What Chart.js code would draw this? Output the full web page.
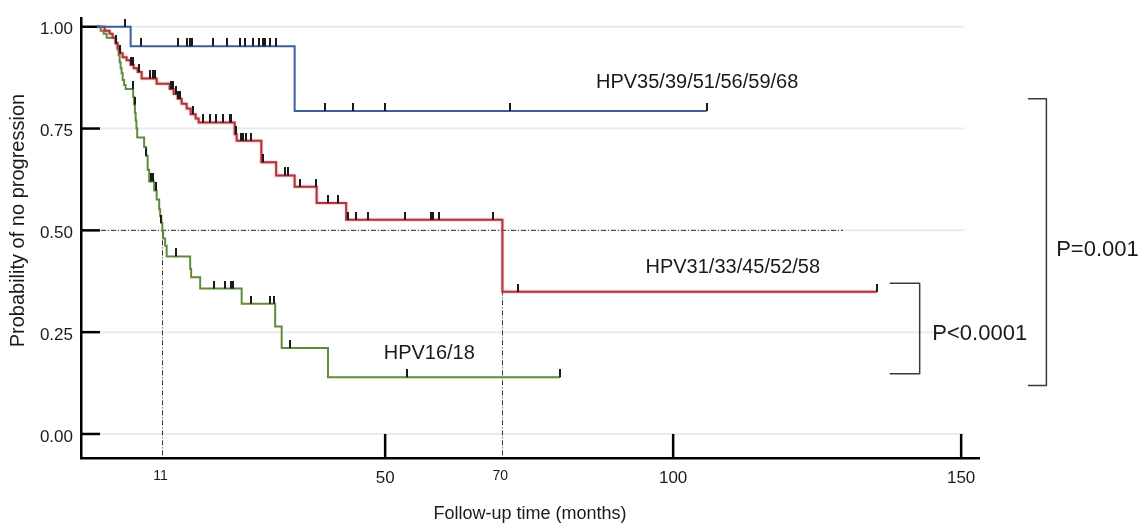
<!DOCTYPE html>
<html>
<head>
<meta charset="utf-8">
<script src="https://cdn.jsdelivr.net/npm/chart.js@4.4.1/dist/chart.umd.min.js"></script>
<style>
  html, body { margin: 0; padding: 0; background: #fff; }
</style>
</head>
<body>
<canvas id="km" width="1142" height="525"></canvas>
<script>
// Kaplan-Meier steps (months, probability of no progression)
const otherTimes = [0, 5.82, 34.29, 105.83];
const otherSurv = [1, 0.952, 0.793, 0.793];
const otherCensor = [4.78, 7.55, 13.98, 15.54, 16.06, 16.41, 20.06, 22.49, 24.74, 25.61, 27.00, 28.04, 28.74, 29.08, 29.95, 31.00, 39.51, 44.42, 49.93, 71.62, 105.83];

const midTimes = [0, 1.30, 2.17, 2.69, 3.21, 3.56, 3.91, 4.43, 5.12, 5.82, 6.34, 7.03, 7.73, 10.33, 12.59, 13.28, 13.98, 14.67, 15.54, 16.24, 17.10, 17.62, 23.88, 24.22, 28.51, 31.08, 34.29, 38.11, 43.24, 70.36, 135.35];
const midSurv = [1, 0.990, 0.983, 0.973, 0.959, 0.947, 0.935, 0.925, 0.918, 0.906, 0.898, 0.889, 0.873, 0.860, 0.847, 0.835, 0.823, 0.811, 0.799, 0.785, 0.775, 0.765, 0.736, 0.720, 0.667, 0.635, 0.607, 0.567, 0.526, 0.349, 0.349];
const midCensor = [3.33, 3.91, 5.94, 6.22, 7.26, 9.12, 9.69, 9.98, 12.88, 13.16, 13.75, 14.03, 14.33, 16.63, 18.37, 19.54, 20.70, 21.84, 23.01, 23.30, 24.17, 25.04, 25.32, 25.91, 26.78, 28.79, 32.56, 33.13, 35.16, 38.06, 40.08, 41.81, 43.55, 45.01, 47.02, 53.39, 58.03, 58.31, 59.35, 68.73, 73.07, 135.35];

const hpv16Times = [0, 0.61, 1.13, 1.65, 3.21, 3.56, 3.73, 3.91, 4.08, 4.25, 4.43, 4.69, 4.95, 6.25, 6.42, 6.56, 6.69, 6.82, 6.96, 8.16, 8.51, 8.77, 9.03, 9.90, 10.33, 10.77, 10.94, 11.15, 11.32, 11.46, 11.81, 12.07, 16.15, 16.32, 17.89, 25.09, 30.91, 32.04, 40.08, 80.31];
const hpv16Surv = [1, 0.990, 0.983, 0.973, 0.961, 0.944, 0.930, 0.913, 0.898, 0.886, 0.869, 0.857, 0.847, 0.828, 0.809, 0.789, 0.770, 0.751, 0.728, 0.705, 0.683, 0.649, 0.620, 0.598, 0.576, 0.552, 0.535, 0.518, 0.499, 0.480, 0.462, 0.436, 0.406, 0.385, 0.357, 0.320, 0.264, 0.211, 0.139, 0.139];
const hpv16Censor = [6.22, 6.51, 8.54, 9.41, 9.69, 10.28, 11.15, 13.75, 20.23, 22.14, 23.30, 23.58, 26.78, 29.95, 30.64, 33.55, 53.74, 80.31];

const groupNames = ['HPV35/39/51/56/59/68', 'HPV31/33/45/52/58', 'HPV16/18'];
const groupColors = ['#3f5f9c', '#b2343b', '#5e8c3a'];

const xTickValues = [11, 50, 70, 100, 150];
const xTickMarks = [50, 100, 150];
const yTickValues = [0, 0.25, 0.5, 0.75, 1];
const yTickLabels = ['0.00', '0.25', '0.50', '0.75', '1.00'];

const FONT = "'Liberation Sans', Arial, sans-serif";
Chart.defaults.font.family = FONT;
Chart.defaults.color = '#1a1a1a';

function steps(times, surv) {
    return times.map((t, i) => ({ x: t, y: surv[i] }));
}

function levelAt(times, surv, t) {
    let s = surv[0];
    for (let i = 0; i < times.length; i++) {
        if (times[i] <= t) s = surv[i];
    }
    return s;
}

function censorPoints(times, surv, censor) {
    return censor.map(t => ({ x: t, y: levelAt(times, surv, t) }));
}

function median(times, surv) {
    for (let i = 0; i < times.length; i++) {
        if (surv[i] <= 0.5) return times[i];
    }
    return null;
}

// small vertical tick used as censor mark (sits above the line)
const tickMark = document.createElement('canvas');
tickMark.width = 2;
tickMark.height = 16;
const tctx = tickMark.getContext('2d');
tctx.fillStyle = '#1a1a1a';
tctx.fillRect(0, 0, 2, 8);

const kmDecor = {
    id: 'kmDecor',
    beforeDatasetsDraw(chart) {
        const { ctx, chartArea, scales: { x, y } } = chart;
        ctx.save();

        // light grid lines
        ctx.strokeStyle = '#e4edf0';
        ctx.lineWidth = 2;
        yTickValues.forEach(v => {
            const py = y.getPixelForValue(v);
            ctx.beginPath();
            ctx.moveTo(chartArea.left + 19, py);
            ctx.lineTo(x.getPixelForValue(150.6), py);
            ctx.stroke();
        });

        // median reference lines
        ctx.strokeStyle = '#333';
        ctx.lineWidth = 1;
        ctx.setLineDash([5, 2, 1, 2]);
        const py50 = y.getPixelForValue(0.5);
        ctx.beginPath();
        ctx.moveTo(chartArea.left, py50);
        ctx.lineTo(x.getPixelForValue(129.5), py50);
        ctx.stroke();
        [median(hpv16Times, hpv16Surv), median(midTimes, midSurv)].forEach(m => {
            const px = Math.round(x.getPixelForValue(m)) + 0.5;
            ctx.beginPath();
            ctx.moveTo(px, py50);
            ctx.lineTo(px, chartArea.bottom);
            ctx.stroke();
        });
        ctx.setLineDash([]);

        // tick marks drawn inside the plot
        ctx.strokeStyle = '#000';
        ctx.lineWidth = 2.5;
        yTickValues.forEach(v => {
            const py = y.getPixelForValue(v);
            ctx.beginPath();
            ctx.moveTo(chartArea.left, py);
            ctx.lineTo(chartArea.left + 19, py);
            ctx.stroke();
        });
        xTickMarks.forEach(v => {
            const px = x.getPixelForValue(v);
            ctx.beginPath();
            ctx.moveTo(px, y.getPixelForValue(0));
            ctx.lineTo(px, chartArea.bottom);
            ctx.stroke();
        });
        ctx.restore();
    },
    // soft pink halo on the red curve, like the original
    beforeDatasetDraw(chart, args) {
        if (args.index === 2) {
            chart.ctx.save();
            chart.ctx.shadowColor = 'rgba(215, 110, 120, 0.8)';
            chart.ctx.shadowBlur = 2;
        }
    },
    afterDatasetDraw(chart, args) {
        if (args.index === 2) chart.ctx.restore();
    },
    afterDraw(chart) {
        const { ctx, chartArea, scales: { x, y } } = chart;
        ctx.save();

        // y axis title
        ctx.fillStyle = '#1a1a1a';
        ctx.font = '20px ' + FONT;
        ctx.textAlign = 'center';
        ctx.textBaseline = 'middle';
        ctx.translate(chartArea.left - 62.5, y.getPixelForValue(0.524));
        ctx.rotate(-Math.PI / 2);
        ctx.fillText('Probability of no progression', 0, 0);
        ctx.setTransform(1, 0, 0, 1, 0, 0);

        // curve labels
        ctx.textAlign = 'left';
        ctx.font = '20px ' + FONT;
        ctx.fillText(groupNames[0], x.getPixelForValue(86.6), y.getPixelForValue(0.862));
        ctx.fillText(groupNames[1], x.getPixelForValue(95.2), y.getPixelForValue(0.409));
        ctx.fillText(groupNames[2], x.getPixelForValue(49.75), y.getPixelForValue(0.198));

        // brackets with p values
        ctx.strokeStyle = '#3a3a3a';
        ctx.lineWidth = 1.5;
        ctx.lineJoin = 'round';
        function bracket(armX, barX, top, bottom) {
            ctx.beginPath();
            ctx.moveTo(x.getPixelForValue(armX), y.getPixelForValue(top));
            ctx.lineTo(x.getPixelForValue(barX), y.getPixelForValue(top));
            ctx.lineTo(x.getPixelForValue(barX), y.getPixelForValue(bottom));
            ctx.lineTo(x.getPixelForValue(armX), y.getPixelForValue(bottom));
            ctx.stroke();
        }
        bracket(161.6, 164.8, 0.823, 0.119);
        bracket(137.6, 142.8, 0.370, 0.148);

        ctx.font = '22px ' + FONT;
        ctx.fillText('P=0.001', x.getPixelForValue(166.5), y.getPixelForValue(0.451));
        ctx.fillText('P<0.0001', x.getPixelForValue(145.0), y.getPixelForValue(0.246));
        ctx.restore();
    }
};

const curves = [
    [otherTimes, otherSurv, otherCensor],
    [midTimes, midSurv, midCensor],
    [hpv16Times, hpv16Surv, hpv16Censor]
];

const datasets = [];
curves.forEach((c, i) => {
    datasets.push({
        label: groupNames[i],
        data: steps(c[0], c[1]),
        stepped: 'before',
        borderColor: groupColors[i],
        borderWidth: 2,
        pointRadius: 0,
        fill: false,
        order: 2
    });
    datasets.push({
        label: groupNames[i] + ' censored',
        data: censorPoints(c[0], c[1], c[2]),
        showLine: false,
        pointStyle: tickMark,
        pointRadius: 4,
        order: 1
    });
});

new Chart(document.getElementById('km'), {
    type: 'line',
    data: { datasets },
    options: {
        responsive: false,
        animation: false,
        devicePixelRatio: 1,
        layout: { padding: { top: 12, right: 163, left: 0, bottom: 0 } },
        plugins: { legend: { display: false }, tooltip: { enabled: false } },
        scales: {
            x: {
                type: 'linear',
                min: -2.8,
                max: 153.1,
                afterBuildTicks: s => { s.ticks = xTickValues.map(v => ({ value: v })); },
                afterFit: s => { s.height = 67; },
                grid: { display: false, drawTicks: false },
                border: { display: true, color: '#000', width: 2.5 },
                ticks: {
                    autoSkip: false,
                    maxRotation: 0,
                    padding: 10,
                    color: '#1a1a1a',
                    font: c => ({ family: FONT, size: xTickMarks.includes(c.tick && c.tick.value) ? 17 : 14 }),
                    callback: v => String(v)
                },
                title: {
                    display: true,
                    text: 'Follow-up time (months)',
                    font: { family: FONT, size: 18 },
                    color: '#1a1a1a',
                    padding: { top: 0, bottom: 0 }
                }
            },
            y: {
                type: 'linear',
                min: -0.059,
                max: 1.021,
                afterBuildTicks: s => { s.ticks = yTickValues.map(v => ({ value: v })); },
                afterFit: s => { s.width = 81; },
                grid: { display: false, drawTicks: false },
                border: { display: true, color: '#000', width: 2.5 },
                ticks: {
                    padding: 8,
                    labelOffset: 3,
                    color: '#1a1a1a',
                    font: { family: FONT, size: 17 },
                    callback: v => yTickLabels[yTickValues.indexOf(v)]
                }
            }
        }
    },
    plugins: [kmDecor]
});
</script>
</body>
</html>
